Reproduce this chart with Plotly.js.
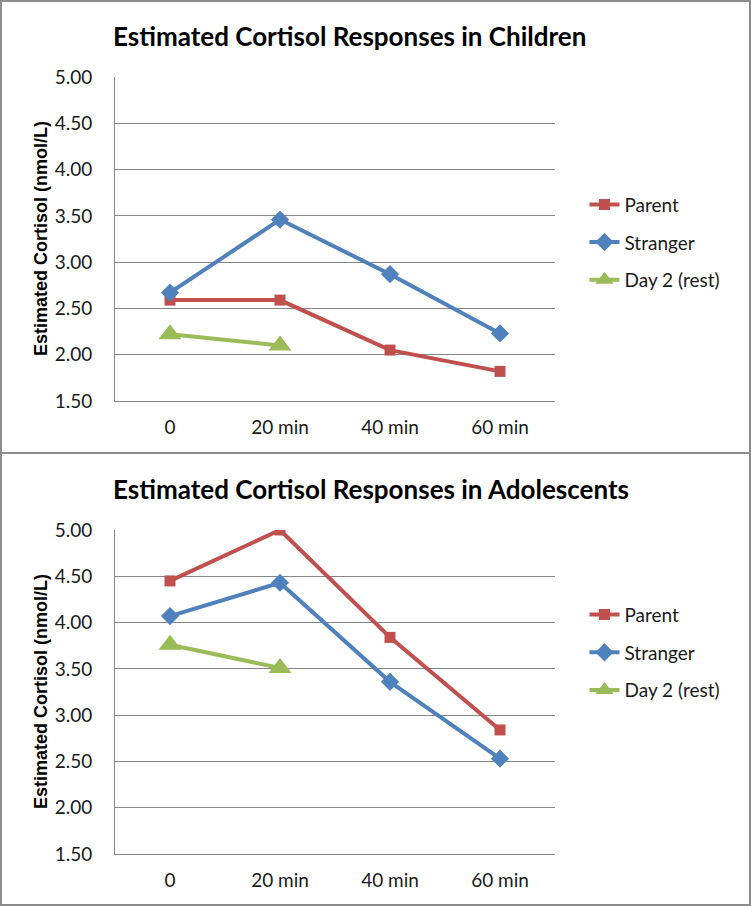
<!DOCTYPE html>
<html>
<head>
<meta charset="utf-8">
<script src="https://cdn.plot.ly/plotly-3.0.1.min.js"></script>
<style>
  html, body { margin: 0; padding: 0; background: #fff; }
  body { width: 751px; height: 906px; position: relative; overflow: hidden; }
  .plot { position: absolute; left: 0; width: 751px; height: 453px; }
  .frame { position: absolute; left: 0; width: 751px; height: 454px; box-sizing: border-box;
           border: 2px solid #8c8c8c; pointer-events: none; z-index: 10; }
</style>
</head>
<body>
<div id="chart1" class="plot" style="top:0px;"></div>
<div id="chart2" class="plot" style="top:453px;"></div>
<div class="frame" style="top:0px;"></div>
<div class="frame" style="top:452px;"></div>
<script>
// ---- data ----
var timepoints = ["0", "20 min", "40 min", "60 min"];
var seriesNames = ["Parent", "Stranger", "Day 2 (rest)"];

var childrenParent   = [2.59, 2.59, 2.05, 1.82];
var childrenStranger = [2.67, 3.46, 2.87, 2.23];
var childrenDay2     = [2.22, 2.10];

var adolParent   = [4.45, 5.00, 3.84, 2.84];
var adolStranger = [4.07, 4.43, 3.36, 2.53];
var adolDay2     = [3.76, 3.51];

var yTickVals = [1.5, 2.0, 2.5, 3.0, 3.5, 4.0, 4.5, 5.0];

var titleChildren = "Estimated Cortisol Responses in Children";
var titleAdol = "Estimated Cortisol Responses in Adolescents";
var yTitle = "Estimated Cortisol (nmol/L)";

// ---- styling ----
var colors = ["#C0504D", "#4F81BD", "#9BBB59"];
var symbols = ["square", "diamond", "triangle-up"];
var msizes = [11, 14, 20];

function makeTraces(p, s, d) {
  var vals = [p, s, d];
  return vals.map(function (v, i) {
    return {
      type: "scatter",
      mode: "lines+markers",
      name: seriesNames[i],
      legendgroup: "g" + i,
      x: timepoints.slice(0, v.length),
      y: v,
      line: { color: colors[i], width: 4 },
      marker: { color: colors[i], symbol: symbols[i], size: msizes[i], line: { width: 0 } },
      hoverinfo: "skip"
    };
  });
}

function makeLayout(title, legendY) {
  return {
    width: 751, height: 453,
    margin: { l: 115, r: 196, t: 77, b: 52 },
    paper_bgcolor: "#ffffff",
    plot_bgcolor: "#ffffff",
    showlegend: true,
    title: {
      text: title,
      xref: "container", yref: "container",
      x: 113 / 751, xanchor: "left",
      y: 1 - 37 / 453, yanchor: "middle",
      font: { family: "Lato", size: 26, color: "#000000", weight: "bold" }
    },
    annotations: [{
      text: yTitle,
      xref: "paper", yref: "paper",
      x: (41 - 115) / 440, xanchor: "center",
      y: 0.5, yanchor: "middle",
      textangle: -90, showarrow: false,
      font: { family: "Liberation Sans", size: 18, color: "#000000", weight: "bold" }
    }],
    xaxis: {
      type: "category",
      range: [-0.5, 3.5],
      showgrid: false,
      showline: true, linecolor: "#868686", linewidth: 1,
      ticks: "", ticklabelstandoff: 9,
      tickfont: { family: "Lato", size: 19, color: "#1a1a1a" },
      zeroline: false, fixedrange: true
    },
    yaxis: {
      range: [1.5, 5.0],
      tickvals: yTickVals,
      tickformat: ".2f",
      showgrid: true, gridcolor: "#868686", gridwidth: 1,
      showline: true, linecolor: "#868686", linewidth: 1,
      ticks: "", ticklabelstandoff: 18,
      tickfont: { family: "Lato", size: 19, color: "#1a1a1a" },
      zeroline: false, fixedrange: true
    },
    legend: {
      x: 1.067, xanchor: "left",
      y: legendY, yanchor: "top",
      tracegroupgap: 10,
      bgcolor: "rgba(0,0,0,0)",
      font: { family: "Lato", size: 19, color: "#1a1a1a" },
      traceorder: "grouped"
    }
  };
}

var config = { staticPlot: true, displayModeBar: false };
Plotly.newPlot("chart1", makeTraces(childrenParent, childrenStranger, childrenDay2),
               makeLayout(titleChildren, 0.665), config);
Plotly.newPlot("chart2", makeTraces(adolParent, adolStranger, adolDay2),
               makeLayout(titleAdol, 0.797), config);
</script>
</body>
</html>
